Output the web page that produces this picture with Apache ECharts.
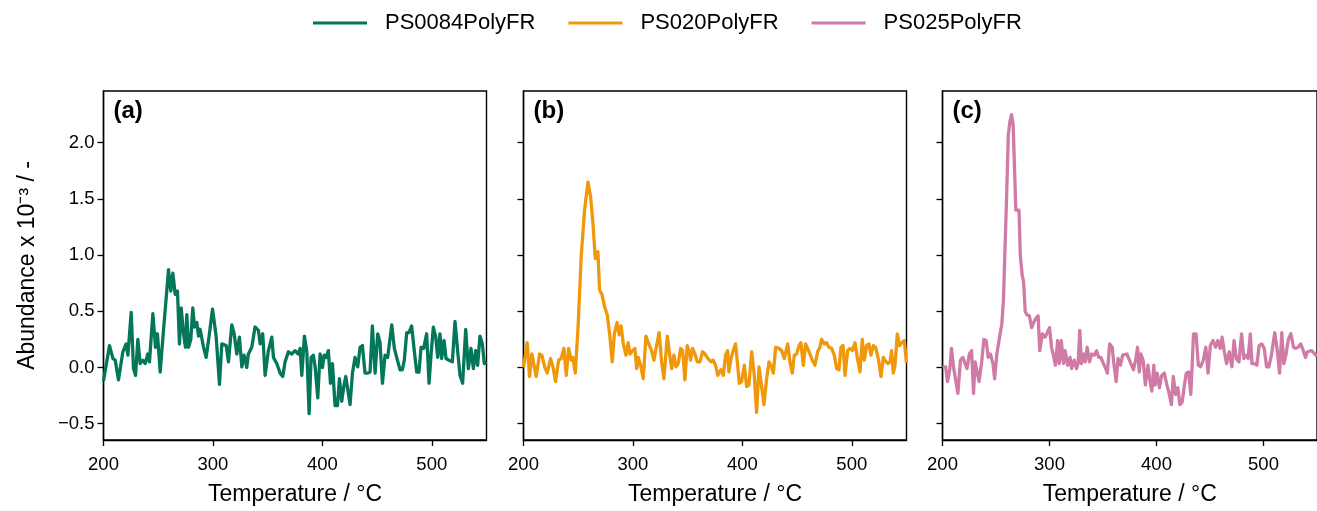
<!DOCTYPE html>
<html>
  <head>
    <title></title>
    <meta charset="UTF-8" />
    <script src="https://cdn.jsdelivr.net/npm/echarts@6/dist/echarts.min.js"></script>
    <style>
      body { margin: 0; background: #fff; }
    </style>
  </head>
  <body>
    <div id="main"></div>
    <script>
      const width = 1317;
      const height = 511;
      const main = document.getElementById('main');
      main.style.width = `${width}px`;
      main.style.height = `${height}px`;

      const seriesNames = ['PS0084PolyFR', 'PS020PolyFR', 'PS025PolyFR'];
      const panelLabels = ['(a)', '(b)', '(c)'];
      const xTicks = [200, 300, 400, 500];
      const yTicks = [-0.5, 0, 0.5, 1, 1.5, 2];

      // (a) PS0084PolyFR
      const tempA = [200, 205.5, 208.6, 210.7, 213.7, 217.7, 220.7, 222.3, 225.3, 227.4, 229.3, 231.4, 233.5, 236, 238.1,
        240.5, 242, 245.1, 247.5, 249.3, 251.8, 254.8, 257.3, 259.4, 261.5, 263.4, 265.5, 267.6, 269.4, 271, 273.1,
        274.9, 276.1, 277.7, 279.8, 281.6, 283.1, 285.3, 286.8, 288.3, 291.4, 293.8, 296.8, 299.6, 302.9, 306, 308.1,
        312.1, 314.2, 317.2, 319.4, 321.8, 324.2, 326.4, 328.5, 330.9, 332.4, 335.5, 338.5, 341.6, 343.1, 345.5, 347.7,
        350.7, 353.8, 355.3, 358.3, 361.4, 363.8, 365.9, 369, 372, 375.1, 377.8, 379.7, 381.2, 383.6, 385.8, 387.9,
        389.7, 391.8, 393.4, 395.8, 397.9, 400.1, 401.6, 403.4, 405.5, 407.4, 409.2, 411.6, 413.8, 415.6, 417.7, 419.9,
        421.4, 423.2, 425.3, 427.5, 429.9, 432.3, 434.5, 436.6, 439, 441.5, 443.6, 445.7, 448.2, 450.6, 452.7, 454.9,
        457.3, 459.7, 463.4, 465.8, 467.9, 471, 473.1, 474.9, 477.1, 479.2, 481.6, 484.1, 486.2, 488.3, 490.2, 492.6,
        495.3, 497.5, 499.3, 501.4, 503.6, 505.4, 507.5, 509, 511.2, 513, 515.7, 518.8, 521.2, 523.7, 525.8, 528.2,
        531, 533.4, 535.8, 538, 540.1, 541.9, 544, 546.2, 548, 550];
      const valA = [-0.12, 0.195, 0.08, 0.065, -0.11, 0.14, 0.21, 0.11, 0.49, -0.01, -0.07, 0.25, 0.035, 0.065, 0.035,
        0.12, 0.05, 0.48, 0.18, 0.3, -0.04, 0.33, 0.62, 0.87, 0.68, 0.84, 0.65, 0.68, 0.21, 0.53, 0.3,
        0.18, 0.47, 0.18, 0.25, 0.53, 0.36, 0.4, 0.28, 0.34, 0.18, 0.09, 0.3, 0.52, 0.28, -0.15, 0.21,
        0.195, 0.05, 0.38, 0.3, 0.12, 0.27, 0.006, 0.11, 0, 0.12, 0.18, 0.36, 0.33, 0.21, 0.3, -0.07,
        0.15, 0.27, 0.09, 0.035, -0.05, -0.08, 0.05, 0.14, 0.12, 0.15, 0.12, 0.17, -0.07, 0.28, 0.14, -0.41,
        0.09, 0.11, 0.006, -0.27, 0.12, 0, 0.11, 0.09, 0.15, -0.14, 0.035, -0.34, -0.34, -0.1, -0.3, -0.15,
        -0.08, -0.07, -0.33, -0.05, 0.09, 0.006, 0.18, 0.195, -0.05, -0.05, -0.04, 0.37, -0.05, 0.3, 0.22, -0.14,
        0.11, 0.09, 0.38, 0.17, 0.09, -0.02, -0.02, 0.065, 0.31, 0.31, 0.37, 0.14, -0.04, -0.04, 0.18, 0.17,
        0.3, -0.14, 0.11, 0.36, 0.27, 0.09, 0.3, 0.08, 0.24, 0.08, 0.065, 0.05, 0.41, 0.14, -0.07, -0.14,
        0.34, -0.01, 0.17, -0.01, 0.15, 0.02, 0.28, 0.21, 0.035, 0.05];

      // (b) PS020PolyFR
      const tempB = [200, 203.4, 205.5, 207.7, 209.5, 211.6, 214.7, 216.8, 219.3, 221.7, 224.7, 226.9, 229.3, 232.1,
        234.5, 236.9, 239.1, 241.2, 243.6, 245.1, 247.3, 249.7, 252.8, 255.8, 258.9, 261.3, 263.4, 265.6, 268,
        269.5, 271.7, 274.1, 276.5, 278.7, 281.1, 283, 285.5, 287.5, 289.2, 291.2, 293.6, 295.7, 297.3, 299.7,
        301.8, 303.4, 304.9, 307, 309.4, 311.9, 314, 317.1, 319.2, 321.6, 324, 326.2, 328.3, 329.9, 331.4, 333.2,
        335.4, 337.5, 339.3, 341.4, 343.6, 345.4, 347.5, 349.6, 351.5, 352.7, 354.5, 356.7, 358.8, 361.2, 363.7,
        365.8, 368.5, 371.3, 373.4, 375.5, 377.5, 380.4, 382.6, 384.7, 386.5, 387.7, 389.6, 391.7, 393.8, 395.7,
        397.2, 399.3, 401.8, 403.9, 406, 408.5, 410.9, 413, 415.2, 417, 419.7, 422.2, 424.3, 426.1, 428.3, 430.4,
        433.4, 435.9, 438.3, 441.4, 443.5, 445.6, 447.5, 449.6, 451.7, 453.5, 455.7, 457.8, 459.6, 461.8, 463.9,
        466.3, 468.8, 470.9, 472.4, 474.9, 477, 479.1, 481.6, 484, 486.2, 488.3, 490.1, 492, 493.8, 496.2, 498.3,
        500.5, 502.9, 505, 507.5, 509.6, 511.4, 513.6, 515.7, 517.5, 519.7, 521.8, 524.2, 526.7, 528.8, 530.3,
        532.8, 534.9, 536.4, 537.9, 539.5, 541.6, 543.7, 545.6, 548, 550];
      const valB = [0.0, 0.22, -0.08, 0.12, 0.12, -0.08, 0.12, 0.11, 0.006, -0.05, 0.08, 0.006, -0.125, 0.065,
        0.08, 0.17, -0.07, 0.17, 0.065, 0.09, -0.05, 0.33, 1.0, 1.4, 1.65, 1.52, 1.29, 0.97, 1.03,
        0.69, 0.65, 0.54, 0.47, 0.3, 0.05, 0.3, 0.4, 0.29, 0.37, 0.21, 0.11, 0.22, 0.12, 0.15,
        0.17, -0.01, 0.09, 0.02, -0.1, 0.28, 0.22, 0.15, 0.065, 0.195, 0.31, 0.05, -0.1, -0.11, 0.28, 0.14,
        -0.01, 0.11, 0.006, 0.035, 0.17, 0.15, -0.11, 0.195, 0.14, 0.065, 0.17, 0.12, 0.05, 0.05, 0.14,
        0.12, 0.08, 0.05, 0.065, 0.02, -0.07, -0.02, -0.07, 0.11, 0.15, -0.04, 0.08, 0.15, 0.21, 0.02,
        -0.14, -0.125, 0.02, -0.17, -0.155, 0.14, -0.07, -0.4, 0.006, -0.125, -0.33, -0.1, 0.05, 0.02, -0.05, 0.18,
        0.17, 0.15, 0.08, 0.21, 0.05, -0.05, 0.11, 0.12, 0.195, 0.22, 0.02, 0.21, 0.17, 0.12, 0.065,
        0.02, 0.14, 0.18, 0.25, 0.21, 0.22, 0.18, 0.17, 0.11, -0.01, -0.02, 0.18, 0.195, -0.07, 0.15, 0.17,
        0.15, 0.22, 0.09, -0.04, 0.25, 0.065, 0.195, 0.21, 0.11, 0.195, 0.18, 0.08, -0.08, 0.09, 0.065,
        0.035, 0.05, 0.15, -0.05, 0.02, 0.3, 0.195, 0.22, 0.24, 0.04];

      // (c) PS025PolyFR
      const tempC = [200, 202.9, 204.7, 206.8, 208.4, 210.5, 212.3, 214.4, 216.8, 219, 221.1, 222.9, 225.1, 227.2,
        229, 230.5, 232, 234.2, 236.6, 238.7, 240.8, 242.7, 244.8, 247.2, 248.7, 250.8, 253.3, 255.4, 256.9,
        258.4, 260, 261.5, 263, 264.5, 266, 267.5, 268.5, 270, 271.5, 272.7, 274.5, 275.8, 277.3, 278.8, 281.2,
        283.3, 285.2, 287.3, 289.4, 290.9, 293.4, 295.8, 297.9, 300, 301.9, 303.4, 305.5, 307.6, 309.1, 311,
        313.1, 314.6, 317, 319.2, 320.7, 323.1, 325.2, 326.7, 328.3, 329.8, 331.9, 333.4, 335.2, 337.4, 339.5,
        341.9, 344.1, 345.9, 348, 350.4, 352.6, 354.1, 356.2, 358.6, 360.1, 362.3, 364.1, 366.3, 368.4, 372.3,
        375.4, 378.4, 380.5, 382.3, 383.9, 385.4, 387.5, 389.6, 392, 393.6, 395.7, 397.5, 398.7, 400.6, 402.7,
        404.8, 407.2, 409.7, 411.8, 413.9, 415.7, 417.9, 420, 421.8, 423.9, 426.1, 427.9, 430, 432.1, 434.6,
        437, 439.1, 441.2, 443.7, 446.1, 448.2, 450.3, 452.8, 455.2, 457.3, 459.5, 461.3, 463.4, 465.5, 468,
        470.4, 472.5, 474.6, 477.1, 479.5, 481.6, 483.7, 485.6, 487.7, 489.2, 491.6, 493.8, 495.9, 498.3, 500.7,
        502.9, 505, 507.4, 510.5, 512.9, 515, 517.1, 519, 521.1, 523.2, 525.6, 528.1, 530.2, 532.3, 534.7,
        537.2, 539.3, 541.1, 545, 550];
      const valC = [0.0, 0.006, -0.125, -0.02, 0.17, -0.01, -0.02, -0.23, 0.065, 0.09, 0.035, -0.01, 0.12, 0.15,
        -0.23, 0.05, 0.035, -0.125, 0.05, 0.25, 0.24, 0.09, 0.12, 0.035, -0.1, 0.12, 0.27, 0.38, 0.59,
        1.05, 1.55, 2.07, 2.19, 2.25, 2.16, 1.72, 1.4, 1.39, 1.4, 1.0, 0.82, 0.76, 0.5, 0.47, 0.46,
        0.355, 0.4, 0.44, 0.46, 0.15, 0.3, 0.27, 0.31, 0.355, 0.18, 0.12, 0.02, 0.24, 0.035, 0.24,
        0.035, 0.15, 0.02, 0.09, -0.01, 0.065, -0.01, 0.035, 0.33, 0.035, 0.12, 0.05, 0.18, 0.05, 0.12,
        0.11, 0.15, 0.09, 0.09, 0.035, -0.01, -0.05, 0.21, 0.18, 0.035, -0.125, 0.08, 0.02, 0.11, 0.12,
        0.05, -0.02, 0.065, 0.18, -0.04, 0.12, 0.065, -0.155, 0.02, -0.1, -0.21, 0.02, -0.155, -0.05, -0.18,
        -0.07, -0.05, -0.155, -0.23, -0.33, -0.08, -0.24, -0.18, -0.33, -0.31, -0.155, -0.05, -0.04, -0.24, 0.3,
        0.3, 0.02, 0.006, 0.065, 0.18, -0.05, 0.195, 0.24, 0.18, 0.24, 0.17, 0.27, 0.14, 0.035, 0.14,
        0.006, 0.24, 0.08, 0.05, 0.3, 0.08, 0.11, 0.08, 0.3, 0.035, 0.035, 0.02, 0.195, 0.21, 0.17,
        0.006, 0.006, 0.11, 0.31, 0.15, -0.05, 0.31, 0.035, 0.12, 0.25, 0.3, 0.18, 0.17, 0.18, 0.21,
        0.15, 0.09, 0.14, 0.15, 0.1];

      const temps = [tempA, tempB, tempC];
      const vals = [valA, valB, valC];
      const colors = ['#04775a', '#f0980a', '#d07ba6'];
      const panelLeft = [103.5, 523.5, 942.5];
      const font = 'Liberation Sans, Arial, sans-serif';

      const zip = (xs, ys) => xs.map((x, i) => [x, ys[i]]);

      const myChart = echarts.init(main, null, { renderer: 'canvas' });
      const option = {
        animation: false,
        textStyle: { fontFamily: font, color: '#000' },
        title: panelLabels.map((t, i) => ({
          text: t,
          left: panelLeft[i] + 10,
          top: 99,
          padding: 0,
          textStyle: { fontFamily: font, fontSize: 24, fontWeight: 'bold', color: '#000' },
        })),
        legend: {
          data: seriesNames,
          top: 12,
          left: 313,
          padding: 0,
          icon: 'rect',
          itemWidth: 54,
          itemHeight: 3,
          itemGap: 33,
          textStyle: { fontFamily: font, fontSize: 22, color: '#000', padding: [0, 0, 0, 13] },
        },
        grid: panelLeft.map((l) => ({
          left: l,
          top: 91,
          width: 383,
          height: 355,
          show: true,
          borderColor: '#000',
          borderWidth: 1.4,
          backgroundColor: 'transparent',
        })),
        xAxis: panelLeft.map((l, i) => ({
          type: 'value',
          gridIndex: i,
          min: 200,
          max: 550,
          name: 'Temperature / °C',
          nameLocation: 'middle',
          nameGap: 43,
          nameTextStyle: { fontFamily: font, fontSize: 23, color: '#000' },
          axisLine: { show: true, onZero: false, lineStyle: { color: '#000', width: 1.4 } },
          axisTick: { show: true, length: 6, customValues: xTicks, lineStyle: { color: '#000', width: 1.3 } },
          axisLabel: { customValues: xTicks, fontSize: 18.5, color: '#000', margin: 15, fontFamily: font },
          splitLine: { show: false },
        })),
        yAxis: panelLeft.map((l, i) => ({
          type: 'value',
          gridIndex: i,
          min: -0.645,
          max: 2.46,
          name: i === 0 ? 'Abundance x 10\u207B\u00B3 / -' : '',
          nameLocation: 'middle',
          nameGap: 64,
          nameRotate: 90,
          nameTextStyle: { fontFamily: font, fontSize: 23, color: '#000' },
          axisLine: { show: true, onZero: false, lineStyle: { color: '#000', width: 1.4 } },
          axisTick: { show: true, length: 6, customValues: yTicks, lineStyle: { color: '#000', width: 1.3 } },
          axisLabel: {
            show: i === 0,
            customValues: yTicks,
            fontSize: 18.5,
            color: '#000',
            margin: 9,
            fontFamily: font,
            formatter: (v) => (v < 0 ? '\u2212' + Math.abs(v).toFixed(1) : v.toFixed(1)),
          },
          splitLine: { show: false },
        })),
        series: seriesNames.map((name, i) => ({
          name: name,
          type: 'line',
          xAxisIndex: i,
          yAxisIndex: i,
          data: zip(temps[i], vals[i]),
          showSymbol: false,
          symbol: 'none',
          clip: true,
          color: colors[i],
          lineStyle: { width: 3.3, color: colors[i], join: 'round' },
        })),
      };
      myChart.setOption(option);
    </script>
  </body>
</html>
